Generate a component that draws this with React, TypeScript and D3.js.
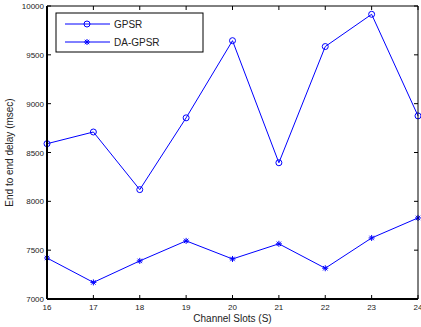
import React from "react";
import * as d3 from "d3";

// channel slots on the x axis
const slots = [16, 17, 18, 19, 20, 21, 22, 23, 24];
const gpsr = [8590, 8710, 8120, 8855, 9645, 8395, 9585, 9915, 8875];
const daGpsr = [7420, 7170, 7390, 7595, 7410, 7565, 7315, 7625, 7830];
const yTicks = [7000, 7500, 8000, 8500, 9000, 9500, 10000];

const W = 421;
const H = 327;
const margin = { top: 6, right: 3, bottom: 28, left: 47 };
const font = "'Liberation Sans', Arial, sans-serif";

export default function App() {
  const x = d3
    .scaleLinear()
    .domain([16, 24])
    .range([margin.left, W - margin.right]);
  const y = d3
    .scaleLinear()
    .domain([7000, 10000])
    .range([H - margin.bottom, margin.top]);

  const line = d3
    .line<number>()
    .x((d, i) => x(slots[i]))
    .y(d => y(d));

  const x0 = margin.left;
  const x1 = W - margin.right;
  const y0 = H - margin.bottom;
  const y1 = margin.top;

  // star marker as a small asterisk
  const star = (cx: number, cy: number, k: string) => (
    <g key={k} stroke="#0000ff" strokeWidth={1}>
      <line x1={cx - 3} y1={cy} x2={cx + 3} y2={cy} />
      <line x1={cx} y1={cy - 3} x2={cx} y2={cy + 3} />
      <line x1={cx - 2.2} y1={cy - 2.2} x2={cx + 2.2} y2={cy + 2.2} />
      <line x1={cx - 2.2} y1={cy + 2.2} x2={cx + 2.2} y2={cy - 2.2} />
    </g>
  );

  return (
    <svg
      width={W}
      height={H}
      style={{ position: "absolute", left: 0, top: 0, background: "#fff" }}
      fontFamily={font}
    >
      {/* ticks, inward on all four sides */}
      {slots.map(s => (
        <g key={"xt" + s} stroke="#000" strokeWidth={1}>
          <line x1={x(s)} x2={x(s)} y1={y0} y2={y0 - 4} />
          <line x1={x(s)} x2={x(s)} y1={y1} y2={y1 + 4} />
        </g>
      ))}
      {yTicks.map(t => (
        <g key={"yt" + t} stroke="#000" strokeWidth={1}>
          <line x1={x0} x2={x0 + 4} y1={y(t)} y2={y(t)} />
          <line x1={x1} x2={x1 - 4} y1={y(t)} y2={y(t)} />
        </g>
      ))}
      {slots.map(s => (
        <text
          key={"xl" + s}
          x={x(s)}
          y={y0 + 11}
          fontSize={8}
          textAnchor="middle"
          fill="#222"
        >
          {s}
        </text>
      ))}
      {yTicks.map(t => (
        <text
          key={"yl" + t}
          x={x0 - 3}
          y={y(t) + 3}
          fontSize={8}
          textAnchor="end"
          fill="#222"
        >
          {t}
        </text>
      ))}

      {/* series */}
      <path d={line(gpsr) || ""} fill="none" stroke="#0000ff" strokeWidth={1} />
      {gpsr.map((v, i) => (
        <circle
          key={"g" + i}
          cx={x(slots[i])}
          cy={y(v)}
          r={3}
          fill="none"
          stroke="#0000ff"
          strokeWidth={1}
        />
      ))}
      <path d={line(daGpsr) || ""} fill="none" stroke="#0000ff" strokeWidth={1} />
      {daGpsr.map((v, i) => star(x(slots[i]), y(v), "d" + i))}

      {/* frame */}
      <line x1={x0} x2={x1} y1={y1} y2={y1} stroke="#000" strokeWidth={1} />
      <line x1={x1} x2={x1} y1={y1} y2={y0} stroke="#000" strokeWidth={1} />
      <line x1={x0} x2={x1} y1={y0} y2={y0} stroke="#000" strokeWidth={2} />
      <line x1={x0} x2={x0} y1={y1} y2={y0} stroke="#000" strokeWidth={2} />

      {/* axis titles */}
      <text
        x={(x0 + x1) / 2}
        y={H - 5}
        fontSize={10}
        textAnchor="middle"
        fill="#222"
      >
        Channel Slots (S)
      </text>
      <text
        transform={`translate(13,${(y0 + y1) / 2}) rotate(-90)`}
        fontSize={10}
        textAnchor="middle"
        fill="#222"
      >
        End to end delay (msec)
      </text>

      {/* legend */}
      <rect x={56} y={13} width={147} height={39} fill="#fff" stroke="#000" strokeWidth={1} />
      <line x1={65} x2={110} y1={24} y2={24} stroke="#0000ff" strokeWidth={1} />
      <circle cx={87} cy={24} r={3} fill="none" stroke="#0000ff" strokeWidth={1} />
      <text x={114} y={28} fontSize={10} fill="#222">GPSR</text>
      <line x1={65} x2={110} y1={42} y2={42} stroke="#0000ff" strokeWidth={1} />
      {star(87, 42, "leg")}
      <text x={114} y={46} fontSize={10} fill="#222">DA-GPSR</text>
    </svg>
  );
}
